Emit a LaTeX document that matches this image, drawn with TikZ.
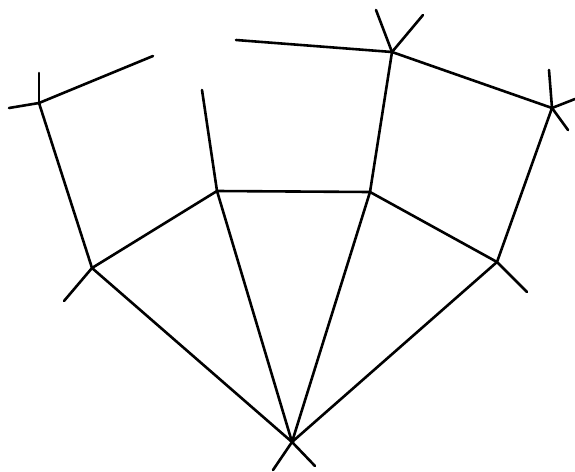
\documentclass[tikz,border=0pt]{standalone}
\begin{document}
\begin{tikzpicture}[x=1pt, y=-1pt, line cap=round, line join=round]
    \useasboundingbox (0,0) rectangle (575,471);
    \tikzset{vertex/.style={inner sep=0pt, minimum size=0pt}, edge/.style={line width=2.6pt, black}}

    \node[vertex] (O) at (292,442) {};
    \node[vertex] (L) at (92,268) {};
    \node[vertex] (R) at (497,262) {};
    \node[vertex] (P) at (217,191) {};
    \node[vertex] (Q) at (370,192) {};
    \node[vertex] (TL) at (39,103) {};
    \node[vertex] (TR) at (392,52) {};
    \node[vertex] (FR) at (552,108) {};

    % 自由端
    \coordinate (a) at (153,56);
    \coordinate (b) at (202,90);
    \coordinate (c) at (236,40);
    \coordinate (s1) at (273,470);
    \coordinate (s2) at (315,466);
    \coordinate (s3) at (64,301);
    \coordinate (s4) at (527,292);
    \coordinate (s5) at (39,73);
    \coordinate (s6) at (9,108);
    \coordinate (s7) at (376,10);
    \coordinate (s8) at (423,15);
    \coordinate (s9) at (549,70);
    \coordinate (s10) at (575,99);
    \coordinate (s11) at (568,130);

    % 边
    \draw[edge] (O)--(L);
    \draw[edge] (O)--(P);
    \draw[edge] (O)--(Q);
    \draw[edge] (O)--(R);
    \draw[edge] (L)--(P);
    \draw[edge] (P)--(Q);
    \draw[edge] (Q)--(R);
    \draw[edge] (L)--(TL);
    \draw[edge] (TL)--(a);
    \draw[edge] (P)--(b);
    \draw[edge] (Q)--(TR);
    \draw[edge] (TR)--(c);
    \draw[edge] (TR)--(FR);
    \draw[edge] (FR)--(R);

    % 短线
    \draw[edge] (O)--(s1);
    \draw[edge] (O)--(s2);
    \draw[edge] (L)--(s3);
    \draw[edge] (R)--(s4);
    \draw[edge] (TL)--(s5);
    \draw[edge] (TL)--(s6);
    \draw[edge] (TR)--(s7);
    \draw[edge] (TR)--(s8);
    \draw[edge] (FR)--(s9);
    \draw[edge] (FR)--(s10);
    \draw[edge] (FR)--(s11);
\end{tikzpicture}
\end{document}
